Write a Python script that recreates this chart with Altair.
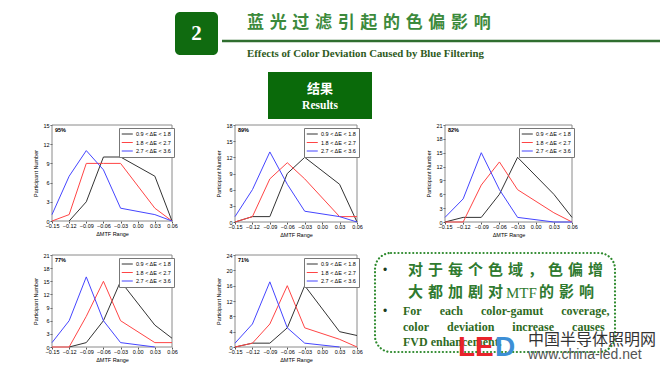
import altair as alt
import pandas as pd

W, H = 652, 355

groups = ["0.9 < ΔE < 1.8", "1.8 < ΔE < 2.7", "2.7 < ΔE < 3.6"]
colors = ["#333333", "#ff4545", "#4545ff"]
x_ticks = [-0.15, -0.12, -0.09, -0.06, -0.03, 0.00, 0.03, 0.06]

# ---- panel 1 (95%)
p1_label = "95%"
p1_yticks = [0, 3, 6, 9, 12, 15]
p1_black_x = [-0.12, -0.09, -0.06, -0.03, 0.03, 0.06]
p1_black_y = [0, 3, 10, 10, 7, 0]
p1_red_x = [-0.15, -0.12, -0.09, -0.06, -0.03, 0.03, 0.06]
p1_red_y = [0, 1, 9, 9, 9, 2, 0]
p1_blue_x = [-0.15, -0.12, -0.09, -0.06, -0.03, 0.03, 0.06]
p1_blue_y = [1, 7, 11, 8, 2, 1, 0]

# ---- panel 2 (89%)
p2_label = "89%"
p2_yticks = [0, 3, 6, 9, 12, 15, 18]
p2_black_x = [-0.15, -0.12, -0.09, -0.06, -0.03, 0.03, 0.06]
p2_black_y = [0, 1, 1, 9, 12, 7, 0]
p2_red_x = [-0.15, -0.12, -0.09, -0.06, -0.03, 0.03, 0.06]
p2_red_y = [0, 1, 8, 11, 8, 1, 1]
p2_blue_x = [-0.15, -0.12, -0.09, -0.06, -0.03, 0.03, 0.06]
p2_blue_y = [1, 6, 13, 7, 2, 1, 0]

# ---- panel 3 (82%)
p3_label = "82%"
p3_yticks = [0, 3, 6, 9, 12, 15, 18, 21]
p3_black_x = [-0.15, -0.12, -0.09, -0.06, -0.03, 0.03, 0.06]
p3_black_y = [0, 1, 1, 6, 14, 6, 1]
p3_red_x = [-0.15, -0.12, -0.09, -0.06, -0.03, 0.03, 0.06]
p3_red_y = [0, 0, 8, 13, 7, 2, 0]
p3_blue_x = [-0.15, -0.12, -0.09, -0.06, -0.03, 0.03, 0.06]
p3_blue_y = [1, 5, 15, 7, 1, 0, 0]

# ---- panel 4 (77%)
p4_label = "77%"
p4_yticks = [0, 3, 6, 9, 12, 15, 18, 21]
p4_black_x = [-0.12, -0.09, -0.06, -0.03, 0.03, 0.06]
p4_black_y = [0, 1, 6, 15, 5, 2]
p4_red_x = [-0.15, -0.12, -0.09, -0.06, -0.03, 0.03, 0.06]
p4_red_y = [0, 0, 7, 15, 6, 1, 1]
p4_blue_x = [-0.15, -0.12, -0.09, -0.06, -0.03, 0.03]
p4_blue_y = [1, 6, 16, 6, 1, 0]

# ---- panel 5 (71%)
p5_label = "71%"
p5_yticks = [0, 4, 8, 12, 16, 20, 24]
p5_black_x = [-0.15, -0.12, -0.09, -0.06, -0.03, 0.03, 0.06]
p5_black_y = [0, 1, 1, 5, 16, 4, 3]
p5_red_x = [-0.15, -0.12, -0.09, -0.06, -0.03, 0.03, 0.06]
p5_red_y = [0, 1, 6, 16, 5, 2, 0]
p5_blue_x = [-0.15, -0.12, -0.09, -0.06, -0.03, 0.03]
p5_blue_y = [1, 6, 17, 5, 1, 0]

panel_data = [
    (p1_label, p1_yticks, [(p1_black_x, p1_black_y), (p1_red_x, p1_red_y), (p1_blue_x, p1_blue_y)]),
    (p2_label, p2_yticks, [(p2_black_x, p2_black_y), (p2_red_x, p2_red_y), (p2_blue_x, p2_blue_y)]),
    (p3_label, p3_yticks, [(p3_black_x, p3_black_y), (p3_red_x, p3_red_y), (p3_blue_x, p3_blue_y)]),
    (p4_label, p4_yticks, [(p4_black_x, p4_black_y), (p4_red_x, p4_red_y), (p4_blue_x, p4_blue_y)]),
    (p5_label, p5_yticks, [(p5_black_x, p5_black_y), (p5_red_x, p5_red_y), (p5_blue_x, p5_blue_y)]),
]

# layout: plot-area pixel boxes (left, right, top, bottom) in chart coordinates
panel_boxes = [
    (44, 164, 117, 213),
    (227, 349, 117, 214),
    (437, 564, 117, 214),
    (44, 164, 247, 339),
    (227, 349, 247, 339),
]

LAB = "Liberation Sans"
SERIF = "Liberation Serif"
CJK = "Noto Sans CJK SC"
one = pd.DataFrame({"a": [0]})


def panel(label, yticks, series, box):
    left, right, top, bottom = box
    rows = []
    for g, (xs, ys) in zip(groups, series):
        for xv, yv in zip(xs, ys):
            rows.append({"x": xv, "y": yv, "grp": g})
    df = pd.DataFrame(rows)
    ymax = yticks[-1]
    xmin, xmax = x_ticks[0], x_ticks[-1]
    sx = alt.Scale(domain=[xmin, xmax], range=[left, right], nice=False)
    sy = alt.Scale(domain=[0, ymax], range=[bottom, top], nice=False)
    xaxis = alt.Axis(
        values=x_ticks, format=".2f", orient="bottom", offset=bottom - H,
        labelFontSize=5.5, labelFont=LAB, labelColor="black", labelPadding=0.5,
        labelFlush=False, labelOverlap=False, tickSize=2, tickColor="#555",
        domain=False, grid=False, title="ΔMTF Range", titleFontSize=5.5,
        titleFont=LAB, titleFontWeight="normal", titlePadding=2, titleColor="black",
    )
    yaxis = alt.Axis(
        values=yticks, orient="left", offset=-left,
        labelFontSize=5.5, labelFont=LAB, labelColor="black", labelPadding=1,
        labelOverlap=False, tickSize=2, tickColor="#555", domain=False, grid=False,
        title="Participant Number", titleFontSize=5.5, titleFont=LAB,
        titleFontWeight="normal", titlePadding=4, titleColor="black",
    )
    legend = alt.Legend(
        orient="none", legendX=right - 53, legendY=top + 3, title=None,
        labelFontSize=5.5, labelFont=LAB, labelColor="black",
        symbolType="M-1,0H2.4", symbolSize=42, symbolStrokeWidth=1,
        padding=2, rowPadding=0.5, labelOffset=7,
        strokeColor="#777", fillColor="white", labelLimit=200,
    )
    X = alt.X("x:Q", scale=sx, axis=xaxis)
    Y = alt.Y("y:Q", scale=sy, axis=yaxis)
    frame_df = pd.DataFrame({"x": [xmin], "x2": [xmax], "y": [0], "y2": [ymax]})
    frame = alt.Chart(frame_df).mark_rect(fillOpacity=0, stroke="#8a8a8a", strokeWidth=1).encode(
        x=X, x2="x2:Q", y=Y, y2="y2:Q",
    )
    lines = alt.Chart(df).mark_line(strokeWidth=1).encode(
        x=X, y=Y,
        color=alt.Color("grp:N", scale=alt.Scale(domain=groups, range=colors), legend=legend),
    )
    pct_df = pd.DataFrame({"x": [xmin], "y": [ymax], "t": [label]})
    pct = alt.Chart(pct_df).mark_text(
        align="left", baseline="top", dx=3, dy=3, fontSize=5.5,
        font=LAB, fontWeight="bold", color="black",
    ).encode(x=X, y=Y, text="t:N")
    return alt.layer(frame, lines, pct)


def text(s, x, y, size, color, font, weight="normal", align="left", baseline="middle"):
    return alt.Chart(one).mark_text(
        text=s, fontSize=size, color=color, font=font, fontWeight=weight,
        align=align, baseline=baseline,
    ).encode(x=alt.value(x), y=alt.value(y))


def box(x, x2, y, y2, **kw):
    return alt.Chart(one).mark_rect(**kw).encode(
        x=alt.value(x), x2=alt.value(x2), y=alt.value(y), y2=alt.value(y2)
    )


sp3 = "\u2004"
title_cn = sp3.join("蓝光过滤引起的色偏影响")
nb = "\u00a0"

header = [
    box(167, 210, 4, 47, fill="#106b10", cornerRadius=5),
    text("2", 188.5, 26, 21, "white", SERIF, "bold", "center"),
    text(title_cn, 239, 15, 17, "#3c8a3c", CJK, "bold"),
    alt.Chart(one).mark_rule(color="#2f6e2f", strokeWidth=2.5).encode(
        x=alt.value(214), x2=alt.value(W), y=alt.value(33)
    ),
    text("Effects of Color Deviation Caused by Blue Filtering", 239, 46, 10.8, "#2e5a1c", SERIF, "bold"),
    box(260, 364, 64, 111, fill="#0a6a0a"),
    text("结果", 312, 81, 13, "white", CJK, "bold", "center"),
    text("Results", 312, 98, 11.5, "white", SERIF, "bold", "center"),
]

notes = [
    box(367, 607, 245, 344, fillOpacity=0, stroke="#2e8a2e", strokeWidth=2.2,
        strokeDash=[0.1, 3.6], strokeCap="round", cornerRadius=16),
    text("•", 375, 262, 12, "#1d3d1d", LAB),
    text(sp3.join("对于每个色域，色偏增"), 400, 262, 15, "#2f7a2f", CJK, "bold"),
    text(sp3.join("大都加剧对"), 400, 284, 15, "#2f7a2f", CJK, "bold"),
    text("MTF", 498, 285, 15, "#2f7a2f", SERIF),
    text(sp3.join("的影响"), 531, 284, 15, "#2f7a2f", CJK, "bold"),
    text("•", 375, 303, 12, "#1d3d1d", LAB),
    text((nb * 6).join(["For", "each", "color-gamut", "coverage,"]), 395, 303, 12, "#2e6a1e", SERIF, "bold"),
    text((nb * 6).join(["color", "deviation", "increase", "causes"]), 395, 319, 12, "#2e6a1e", SERIF, "bold"),
    text("FVD enhancement.", 395, 334, 12, "#2e6a1e", SERIF, "bold"),
]

watermark = [
    text("LE", 450, 348, 28, "#e8232b", LAB, "bold", baseline="alphabetic"),
    text("D", 487, 348, 28, "#3d8fd6", LAB, "bold", baseline="alphabetic"),
    text("中国半导体照明网", 520, 332, 16, "#333333", CJK),
    text("www.china-led.net", 520, 347, 14, "#555555", LAB),
]

panels = [panel(l, yt, s, b) for (l, yt, s), b in zip(panel_data, panel_boxes)]

chart = alt.layer(*header, *panels, *notes, *watermark).resolve_scale(
    x="independent", y="independent", color="independent"
).properties(
    width=W, height=H, padding=0, autosize=alt.AutoSizeParams(type="none"),
    background="white",
).configure_view(strokeWidth=0)

chart.save("out.html", embed_options={"renderer": "svg", "actions": False})
